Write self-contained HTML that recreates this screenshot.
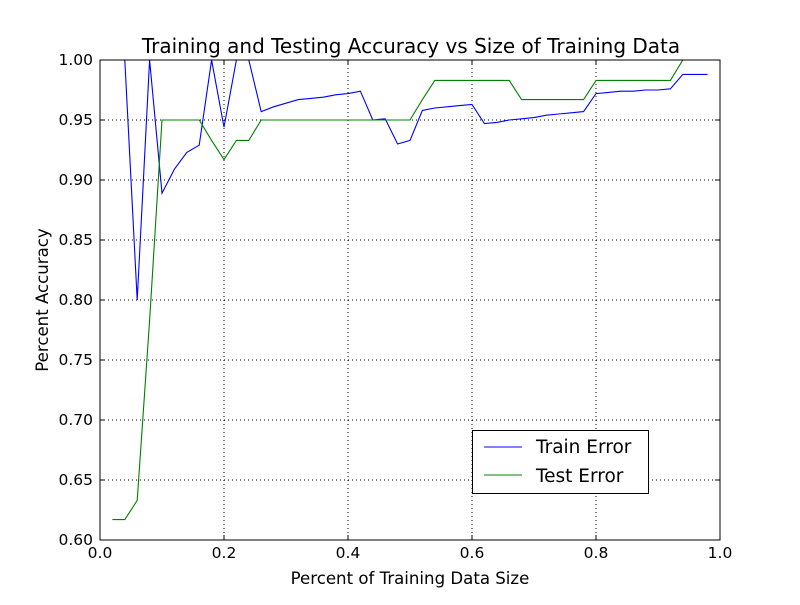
<!DOCTYPE html>
<html><head><meta charset="utf-8"><style>
body{margin:0;background:#fff}
text{font-family:"DejaVu Sans","Liberation Sans",sans-serif}
</style></head><body>
<svg id="chart" width="800" height="600" xmlns="http://www.w3.org/2000/svg">
<rect width="800" height="600" fill="#fff"/>
<defs><clipPath id="clip"><rect x="100" y="60" width="620" height="480"/></clipPath></defs>
<g id="grid"></g>
<g id="series" clip-path="url(#clip)"></g>
<rect x="100" y="60" width="620" height="480" fill="none" stroke="#000" stroke-width="1"/>
<g id="ticks"></g>
<text x="411" y="53" text-anchor="middle" font-size="20">Training and Testing Accuracy vs Size of Training Data</text>
<text x="410" y="584" text-anchor="middle" font-size="16.6">Percent of Training Data Size</text>
<text transform="translate(48,300) rotate(-90)" text-anchor="middle" font-size="16.6">Percent Accuracy</text>
<g>
<rect x="472.5" y="430.5" width="176" height="63" fill="#fff" stroke="#000"/>
<line x1="484" y1="447" x2="522" y2="447" stroke="#0000ff"/>
<text x="536" y="453" font-size="18.5">Train Error</text>
<line x1="484" y1="475" x2="522" y2="475" stroke="#008000"/>
<text x="536" y="482" font-size="18.5">Test Error</text>
</g>
</svg>
<script>
const trainX=[0.04,0.06,0.08,0.10,0.12,0.14,0.16,0.18,0.20,0.22,0.24,0.26,0.28,0.30,0.32,0.34,0.36,0.38,0.40,0.42,0.44,0.46,0.48,0.50,0.52,0.54,0.56,0.58,0.60,0.62,0.64,0.66,0.68,0.70,0.72,0.74,0.76,0.78,0.80,0.82,0.84,0.86,0.88,0.90,0.92,0.94,0.96,0.98];
const trainY=[1.0,0.80,1.0,0.889,0.909,0.923,0.929,1.0,0.944,1.0,1.0,0.957,0.961,0.964,0.967,0.968,0.969,0.971,0.972,0.974,0.95,0.951,0.930,0.933,0.958,0.960,0.961,0.962,0.963,0.947,0.948,0.950,0.951,0.952,0.954,0.955,0.956,0.957,0.972,0.973,0.974,0.974,0.975,0.975,0.976,0.988,0.988,0.988];
const testX=[0.02,0.04,0.06,0.08,0.10,0.12,0.14,0.16,0.18,0.20,0.22,0.24,0.26,0.28,0.30,0.32,0.34,0.36,0.38,0.40,0.42,0.44,0.46,0.48,0.50,0.52,0.54,0.56,0.58,0.60,0.62,0.64,0.66,0.68,0.70,0.72,0.74,0.76,0.78,0.80,0.82,0.84,0.86,0.88,0.90,0.92,0.94,0.96,0.98];
const testY=[0.617,0.617,0.633,0.783,0.95,0.95,0.95,0.95,0.933,0.917,0.933,0.933,0.95,0.95,0.95,0.95,0.95,0.95,0.95,0.95,0.95,0.95,0.95,0.95,0.95,0.967,0.983,0.983,0.983,0.983,0.983,0.983,0.983,0.967,0.967,0.967,0.967,0.967,0.967,0.983,0.983,0.983,0.983,0.983,0.983,0.983,1.0,1.0,1.0];
const xTicks=[0,0.2,0.4,0.6,0.8,1.0];
const xTickLabels=["0.0","0.2","0.4","0.6","0.8","1.0"];
const yTicks=[0.60,0.65,0.70,0.75,0.80,0.85,0.90,0.95,1.00];
const yTickLabels=["0.60","0.65","0.70","0.75","0.80","0.85","0.90","0.95","1.00"];
const NS="http://www.w3.org/2000/svg";
const sx=v=>100+v*620;
const sy=v=>540-(v-0.6)/0.4*480;
function mk(tag,attrs,parent){const e=document.createElementNS(NS,tag);for(const k in attrs)e.setAttribute(k,attrs[k]);parent.appendChild(e);return e;}
const grid=document.getElementById('grid'),ticks=document.getElementById('ticks'),series=document.getElementById('series');
xTicks.forEach((t,i)=>{
  const x=sx(t);
  if(i>0&&i<xTicks.length-1){const g=mk('line',{x1:x,y1:60,x2:x,y2:540,stroke:'#000','stroke-dasharray':'1,3','stroke-width':1},grid);
  
  }
  mk('line',{x1:x,y1:540,x2:x,y2:535,stroke:'#000'},ticks);
  mk('line',{x1:x,y1:60,x2:x,y2:65,stroke:'#000'},ticks);
  const l=mk('text',{x:x,y:558,'text-anchor':'middle','font-size':15.5},ticks);l.textContent=xTickLabels[i];
  
  
});
yTicks.forEach((t,i)=>{
  const y=sy(t);
  if(i>0&&i<yTicks.length-1){const g=mk('line',{x1:100,y1:y,x2:720,y2:y,stroke:'#000','stroke-dasharray':'1,3','stroke-width':1},grid);
  
  }
  mk('line',{x1:100,y1:y,x2:105,y2:y,stroke:'#000'},ticks);
  mk('line',{x1:720,y1:y,x2:715,y2:y,stroke:'#000'},ticks);
  const l=mk('text',{x:93,y:y+5,'text-anchor':'end','font-size':15.5},ticks);l.textContent=yTickLabels[i];
  
  
});
const p1=mk('polyline',{points:trainX.map((x,i)=>sx(x)+','+sy(trainY[i])).join(' '),fill:'none',stroke:'#0000ff','stroke-width':1.1},series);


const p2=mk('polyline',{points:testX.map((x,i)=>sx(x)+','+sy(testY[i])).join(' '),fill:'none',stroke:'#008000','stroke-width':1.1},series);


</script>
</body></html>
